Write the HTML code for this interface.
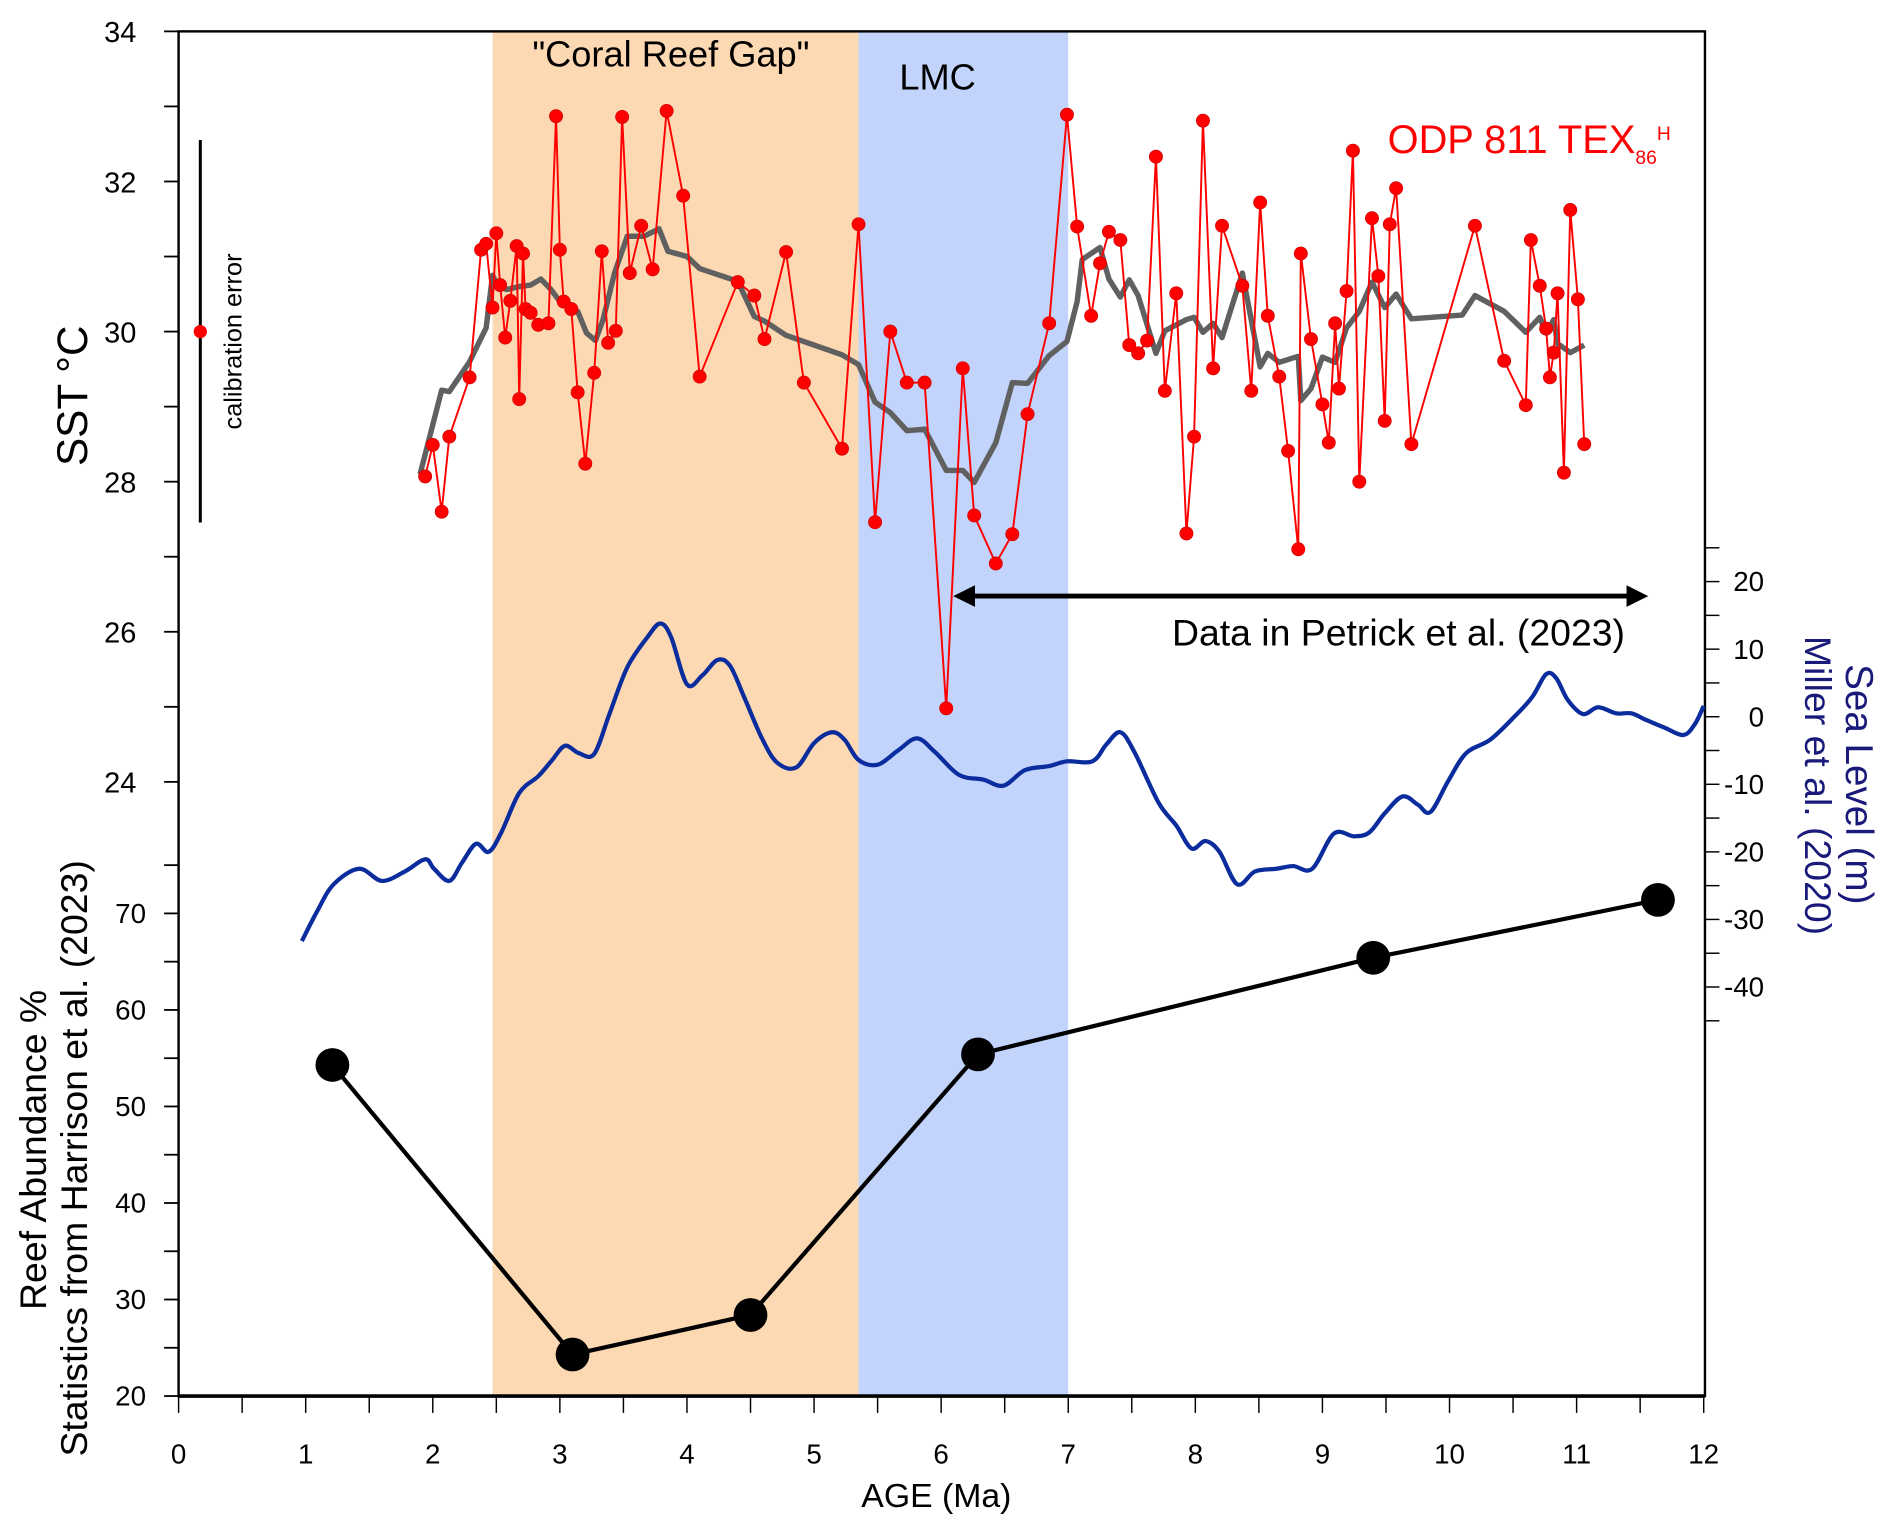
<!DOCTYPE html>
<html><head><meta charset="utf-8"><style>
html,body{margin:0;padding:0;background:#fff}
svg{display:block;font-family:"Liberation Sans",Arial,sans-serif}
</style></head><body>
<svg id="chart" width="1892" height="1533" viewBox="0 0 1568 1270.5" xmlns="http://www.w3.org/2000/svg">
<g id="bands"></g>
<g id="axes"></g>
<g id="series"></g>
<g id="labels"></g>
</svg>
<script>
// ---- data ----
const sstAge=[1.94,2.00,2.07,2.13,2.29,2.38,2.42,2.47,2.50,2.53,2.57,2.61,2.66,2.68,2.71,2.73,2.77,2.83,2.91,2.97,3.00,3.03,3.09,3.14,3.20,3.27,3.33,3.38,3.44,3.49,3.55,3.64,3.73,3.84,3.97,4.10,4.40,4.53,4.61,4.78,4.92,5.22,5.35,5.48,5.60,5.73,5.87,6.04,6.17,6.26,6.43,6.56,6.68,6.85,6.99,7.07,7.18,7.25,7.32,7.41,7.48,7.55,7.62,7.69,7.76,7.85,7.93,7.99,8.06,8.14,8.21,8.37,8.44,8.51,8.57,8.66,8.73,8.81,8.83,8.91,9.00,9.05,9.10,9.13,9.19,9.24,9.29,9.39,9.44,9.49,9.53,9.58,9.70,10.20,10.43,10.60,10.64,10.71,10.76,10.79,10.82,10.85,10.90,10.95,11.01,11.06];
const sstVal=[28.07,28.49,27.6,28.6,29.39,31.09,31.17,30.32,31.31,30.62,29.92,30.41,31.14,29.1,31.04,30.3,30.25,30.09,30.11,32.87,31.09,30.4,30.3,29.19,28.24,29.45,31.07,29.85,30.01,32.86,30.78,31.41,30.83,32.94,31.81,29.4,30.66,30.48,29.9,31.06,29.32,28.44,31.43,27.46,30.0,29.32,29.32,24.98,29.51,27.55,26.91,27.3,28.9,30.11,32.89,31.4,30.21,30.91,31.33,31.22,29.82,29.71,29.88,32.33,29.21,30.51,27.31,28.6,32.81,29.51,31.41,30.61,29.21,31.72,30.21,29.4,28.41,27.1,31.04,29.9,29.03,28.52,30.11,29.24,30.54,32.41,28.0,31.51,30.74,28.81,31.43,31.91,28.5,31.41,29.61,29.02,31.22,30.61,30.04,29.39,29.72,30.51,28.12,31.62,30.43,28.5];
const smAge=[1.90,2.07,2.13,2.29,2.42,2.47,2.50,2.58,2.68,2.77,2.85,2.93,3.00,3.07,3.14,3.21,3.28,3.34,3.43,3.53,3.66,3.78,3.85,4.00,4.10,4.40,4.53,4.61,4.78,5.22,5.35,5.48,5.60,5.73,5.87,6.04,6.17,6.26,6.43,6.56,6.68,6.85,6.99,7.07,7.11,7.25,7.32,7.41,7.48,7.55,7.69,7.76,7.93,7.99,8.06,8.14,8.21,8.37,8.51,8.57,8.66,8.81,8.83,8.91,9.00,9.10,9.19,9.29,9.39,9.49,9.58,9.70,10.10,10.20,10.43,10.60,10.71,10.76,10.82,10.85,10.95,11.06];
const smVal=[28.1,29.22,29.2,29.6,30.05,30.75,30.65,30.56,30.6,30.62,30.7,30.56,30.4,30.35,30.27,29.98,29.88,30.16,30.78,31.27,31.27,31.37,31.07,31.0,30.84,30.67,30.2,30.14,29.95,29.69,29.56,29.06,28.92,28.68,28.7,28.15,28.15,27.99,28.52,29.32,29.31,29.68,29.87,30.4,30.96,31.12,30.7,30.46,30.69,30.48,29.71,30.01,30.16,30.19,29.99,30.11,29.92,30.78,29.53,29.71,29.59,29.67,29.08,29.24,29.66,29.59,30.05,30.27,30.66,30.32,30.5,30.17,30.22,30.48,30.27,29.99,30.19,29.98,30.16,29.84,29.72,29.82];
const slAge=[0.97,1.09,1.22,1.42,1.60,1.78,1.94,2.01,2.13,2.23,2.34,2.44,2.54,2.68,2.83,2.94,3.04,3.15,3.27,3.39,3.53,3.69,3.79,3.875,4.0,4.12,4.24,4.34,4.45,4.59,4.71,4.86,5.0,5.14,5.24,5.35,5.5,5.66,5.81,5.95,6.14,6.33,6.49,6.66,6.85,6.99,7.19,7.30,7.41,7.52,7.71,7.85,7.97,8.08,8.19,8.33,8.47,8.64,8.77,8.92,9.09,9.25,9.37,9.49,9.63,9.75,9.85,9.99,10.13,10.32,10.51,10.65,10.76,10.84,10.93,11.05,11.17,11.31,11.43,11.55,11.69,11.84,11.93,12.0];
const slVal=[-33.2,-28.8,-24.8,-22.5,-24.3,-22.9,-21.1,-22.5,-24.3,-21.6,-18.8,-20,-17.1,-11.3,-8.8,-6.4,-4.3,-5.4,-5.5,0.4,7.3,11.8,13.8,11.8,4.8,6.1,8.4,7.5,2.9,-3.2,-6.8,-7.5,-3.9,-2.3,-3.4,-6.4,-7.1,-5,-3.2,-5.2,-8.6,-9.3,-10.2,-7.9,-7.3,-6.6,-6.6,-4.1,-2.3,-5.2,-12.7,-16.1,-19.5,-18.4,-20,-24.8,-22.9,-22.5,-22.1,-22.5,-17.3,-17.7,-17.1,-14.3,-11.8,-13,-14.1,-9.5,-5.4,-3.4,0,2.9,6.3,5.7,2.5,0.4,1.4,0.5,0.5,-0.5,-1.6,-2.7,-1.1,1.6];
const reefAge=[1.21,3.10,4.50,6.29,9.40,11.64];
const reefVal=[54.3,24.3,28.4,55.4,65.4,71.4];
const xTicks=[0,1,2,3,4,5,6,7,8,9,10,11,12];
const sstTicks=[24,26,28,30,32,34];
const reefTicks=[20,30,40,50,60,70];
const slTicks=[20,10,0,-10,-20,-30,-40];

// ---- scales ----
const X=a=>148+a*105.33;
const YT=t=>26+(34-t)*62.2;
const YR=r=>1157-(r-20)*8;
const YS=s=>594-s*5.6;
const NS='http://www.w3.org/2000/svg';
function mk(tag,attrs,parent,text){const e=document.createElementNS(NS,tag);for(const k in attrs)e.setAttribute(k,attrs[k]);if(text!==undefined)e.textContent=text;parent.appendChild(e);return e;}
function smooth(pts){let d='M'+pts[0][0]+','+pts[0][1];for(let i=0;i<pts.length-1;i++){const p0=pts[Math.max(0,i-1)],p1=pts[i],p2=pts[i+1],p3=pts[Math.min(pts.length-1,i+2)];const c1x=p1[0]+(p2[0]-p0[0])/6,c1y=p1[1]+(p2[1]-p0[1])/6,c2x=p2[0]-(p3[0]-p1[0])/6,c2y=p2[1]-(p3[1]-p1[1])/6;d+='C'+c1x+','+c1y+' '+c2x+','+c2y+' '+p2[0]+','+p2[1];}return d;}
const bands=document.getElementById('bands'),axes=document.getElementById('axes'),series=document.getElementById('series'),labels=document.getElementById('labels');

let b=mk('rect',{x:X(2.47),y:26,width:X(5.35)-X(2.47),height:1131,fill:'#fdd9b3'},bands);


b=mk('rect',{x:X(5.35),y:26,width:X(7.0)-X(5.35),height:1131,fill:'#c2d4fc'},bands);



let f=mk('rect',{x:148,y:26,width:1265,height:1131,fill:'none',stroke:'#000','stroke-width':2},axes);


mk('line',{x1:148,y1:1157,x2:1413,y2:1157,stroke:'#000','stroke-width':3},axes);

for(let a=0;a<=12;a+=0.5){mk('line',{x1:X(a),y1:1157,x2:X(a),y2:1171,stroke:'#000','stroke-width':1.2},axes);}
xTicks.forEach(v=>{const t=mk('text',{x:X(v),y:1213,'font-size':23,'text-anchor':'middle'},axes,String(v));

});
for(let v=24;v<=34;v+=1){mk('line',{x1:136,y1:YT(v),x2:148,y2:YT(v),stroke:'#000','stroke-width':1.5},axes);}
sstTicks.forEach(v=>{const t=mk('text',{x:113,y:YT(v)+9,'font-size':24,'text-anchor':'end'},axes,String(v));

});
for(let v=20;v<=75;v+=5){mk('line',{x1:136,y1:YR(v),x2:148,y2:YR(v),stroke:'#000','stroke-width':1.5},axes);}
reefTicks.forEach(v=>{const t=mk('text',{x:121,y:YR(v)+8,'font-size':23,'text-anchor':'end'},axes,String(v));

});
for(let v=25;v>=-45;v-=5){mk('line',{x1:1413,y1:YS(v),x2:1425,y2:YS(v),stroke:'#000','stroke-width':1.2},axes);}
slTicks.forEach(v=>{const t=mk('text',{x:1462,y:YS(v)+8,'font-size':23,'text-anchor':'end'},axes,String(v));

});

let p=mk('path',{d:smooth(slAge.map((a,i)=>[X(a),YS(slVal[i])])),fill:'none',stroke:'#0a2c9c','stroke-width':3.5,'stroke-linejoin':'round'},series);


p=mk('path',{d:smAge.map((a,i)=>(i?'L':'M')+X(a)+','+YT(smVal[i])).join(''),fill:'none',stroke:'#606060','stroke-width':4.5,'stroke-linejoin':'round'},series);


p=mk('path',{d:sstAge.map((a,i)=>(i?'L':'M')+X(a)+','+YT(sstVal[i])).join(''),fill:'none',stroke:'#ff0000','stroke-width':1.6},series);


sstAge.forEach((a,i)=>{const c=mk('circle',{cx:X(a),cy:YT(sstVal[i]),r:5.5,fill:'#ff0000',stroke:'#cc0000','stroke-width':0.5},series);

});
p=mk('path',{d:reefAge.map((a,i)=>(i?'L':'M')+X(a)+','+YR(reefVal[i])).join(''),fill:'none',stroke:'#000','stroke-width':3.5},series);


reefAge.forEach((a,i)=>{const c=mk('circle',{cx:X(a),cy:YR(reefVal[i]),r:14,fill:'#000'},series);

});

mk('line',{x1:166,y1:116,x2:166,y2:433,stroke:'#000','stroke-width':2.5},labels);
let c=mk('circle',{cx:166,cy:YT(30),r:5.5,fill:'#ff0000'},labels);


let g=mk('g',{},labels);


mk('line',{x1:800,y1:494,x2:1352,y2:494,stroke:'#000','stroke-width':4},g);
mk('polygon',{points:'790,494 808,485 808,503',fill:'#000'},g);
mk('polygon',{points:'1366,494 1348,485 1348,503',fill:'#000'},g);
</script>
<div style="position:absolute;left:0;top:0;width:1892px;height:1533px;pointer-events:none">
<svg width="1892" height="1533" viewBox="0 0 1568 1270.5" xmlns="http://www.w3.org/2000/svg" style="font-family:'Liberation Sans',Arial,sans-serif">
<text x="556" y="55" font-size="30" text-anchor="middle">"Coral Reef Gap"</text>
<text x="777" y="74" font-size="30" text-anchor="middle">LMC</text>
<text x="1150" y="127" font-size="33" fill="#ff0000">ODP 811 TEX<tspan font-size="16" dy="9">86</tspan><tspan font-size="16" dy="-20">H</tspan></text>
<text x="1159" y="535" font-size="31" text-anchor="middle">Data in Petrick et al. (2023)</text>
<text transform="translate(200,283) rotate(-90)" font-size="21" text-anchor="middle">calibration error</text>
<text transform="translate(72,328) rotate(-90)" font-size="35" text-anchor="middle">SST °C</text>
<text transform="translate(38,953) rotate(-90)" font-size="31" text-anchor="middle">Reef Abundance %</text>
<text transform="translate(72,960) rotate(-90)" font-size="31" text-anchor="middle">Statistics from Harrison et al. (2023)</text>
<text transform="translate(1530,650) rotate(90)" font-size="32" fill="#1a1a7a" text-anchor="middle">Sea Level (m)</text>
<text transform="translate(1496,651) rotate(90)" font-size="31" fill="#1a1a7a" text-anchor="middle">Miller et al. (2020)</text>
<text x="776" y="1249" font-size="28" text-anchor="middle">AGE (Ma)</text>
</svg></div>
</body></html>
